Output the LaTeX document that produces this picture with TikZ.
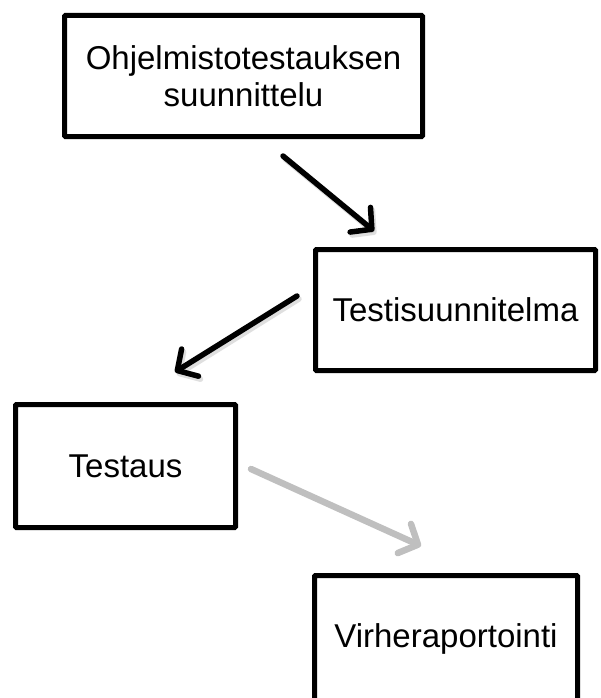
\documentclass[tikz,border=0pt]{standalone}
\usepackage{fontspec}
\setmainfont{Liberation Sans}
\usetikzlibrary{arrows.meta}
\begin{document}
\begin{tikzpicture}[x=1pt,y=-1pt,
  box/.style={draw=black,line width=5pt,rounded corners=1pt,fill=white,
    align=center,inner sep=0pt,font=\fontsize{33}{37}\selectfont},
  flow/.style={line width=5.5pt,line cap=round,
    -{Straight Barb[length=15pt,width=32pt,line cap=round,line join=round]}},
  flowshadow/.style={flow,draw=black!25,opacity=0.5}]
\useasboundingbox (0,0) rectangle (600,698);
\clip (0,0) rectangle (600,698);

% process boxes
\node[box,minimum width=358pt,minimum height=121pt] (plan) at (243.5,76)
  {Ohjelmistotestauksen\\suunnittelu};
\node[box,minimum width=280pt,minimum height=121pt] (tsuun) at (455.5,310)
  {Testisuunnitelma};
\node[box,minimum width=220pt,minimum height=123pt] (test) at (125.5,466)
  {Testaus};
\node[box,minimum width=263pt,minimum height=127pt] (virhe) at (446,639)
  {Virheraportointi};

% free ends of the connectors
\coordinate (a1s) at (283,156);
\coordinate (a1e) at (374,231);
\coordinate (a2s) at (297,296);
\coordinate (a2e) at (175,372);
\coordinate (a3s) at (251,469);
\coordinate (a3e) at (421,546);

% soft shadows under the connectors
\draw[flowshadow] ([shift={(2,3)}]a1s) -- ([shift={(2,3)}]a1e);
\draw[flowshadow] ([shift={(2,3)}]a2s) -- ([shift={(2,3)}]a2e);

% connectors
\draw[flow,draw=black] (a1s) -- (a1e);
\draw[flow,draw=black] (a2s) -- (a2e);
\draw[flow,draw=black!25,line width=6.5pt] (a3s) -- (a3e);
\end{tikzpicture}
\end{document}
